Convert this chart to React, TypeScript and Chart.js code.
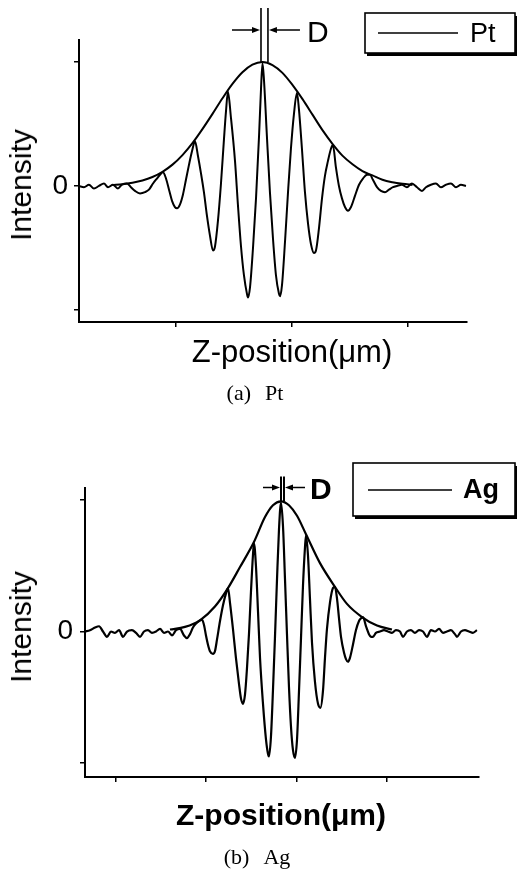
import React, { useEffect, useRef } from "react";
import { Chart, registerables } from "chart.js";

Chart.register(...registerables);

const SANS = '"Liberation Sans", Arial, Helvetica, sans-serif';
const SERIF = '"Liberation Serif", "Times New Roman", Times, serif';

// ---------- (a) Pt : white-light fringe trace ----------
const ptZ = [
  0.164, 0.207, 0.25, 0.293, 0.336, 0.379, 0.414, 0.457, 0.5, 0.534,
  0.578, 0.612, 0.647, 0.69, 0.733, 0.767, 0.802, 0.836, 0.862, 0.888,
  0.914, 0.94, 0.966, 0.991, 1.009, 1.034, 1.06, 1.086, 1.112, 1.138,
  1.164, 1.19, 1.216, 1.241, 1.267, 1.293, 1.319, 1.336, 1.362, 1.388,
  1.414, 1.431, 1.448, 1.474, 1.509, 1.534, 1.56, 1.586, 1.612, 1.621,
  1.638, 1.664, 1.69, 1.716, 1.733, 1.746, 1.759, 1.784, 1.81, 1.836,
  1.862, 1.888, 1.897, 1.914, 1.94, 1.966, 1.991, 2.017, 2.043, 2.06,
  2.086, 2.112, 2.138, 2.164, 2.19, 2.207, 2.233, 2.259, 2.284, 2.31,
  2.336, 2.353, 2.379, 2.405, 2.431, 2.457, 2.483, 2.509, 2.543, 2.578,
  2.612, 2.647, 2.672, 2.698, 2.733, 2.767, 2.802, 2.836, 2.871, 2.905,
  2.948, 2.991, 3.034, 3.078, 3.121, 3.155, 3.198, 3.241, 3.284, 3.328,
  3.371, 3.414, 3.457, 3.5,
];
const ptSignal = [
  0.0, -0.01, 0.01, -0.02, 0.0, 0.02, -0.01, 0.01, -0.02, 0.01,
  0.02, -0.01, -0.04, -0.06, -0.05, -0.03, 0.02, 0.06, 0.09, 0.11,
  0.06, -0.03, -0.12, -0.17, -0.18, -0.15, -0.07, 0.05, 0.17, 0.28,
  0.36, 0.24, 0.1, -0.05, -0.24, -0.4, -0.52, -0.49, -0.28, 0.02,
  0.38, 0.6, 0.76, 0.55, 0.2, -0.15, -0.48, -0.72, -0.87, -0.9,
  -0.82, -0.5, -0.1, 0.4, 0.78, 0.99, 0.85, 0.4, -0.05, -0.42,
  -0.72, -0.87, -0.89, -0.8, -0.45, -0.05, 0.3, 0.58, 0.75, 0.62,
  0.3, -0.05, -0.3, -0.47, -0.54, -0.52, -0.34, -0.1, 0.08, 0.2,
  0.3, 0.33, 0.15, 0.0, -0.1, -0.17, -0.2, -0.17, -0.08, 0.01,
  0.06, 0.09, 0.09, 0.05, -0.01, -0.04, -0.05, -0.03, -0.01, 0.0,
  0.01, -0.01, 0.02, -0.01, -0.04, -0.01, 0.01, 0.02, -0.01, 0.01,
  0.02, -0.01, 0.01, 0.0,
];
const ptEnvZ = [
  0.453, 0.539, 0.625, 0.711, 0.797, 0.884, 0.97, 1.056, 1.142, 1.228,
  1.315, 1.401, 1.487, 1.573, 1.659, 1.746, 1.832, 1.918, 2.004, 2.091,
  2.177, 2.263, 2.349, 2.435, 2.522, 2.608, 2.694, 2.78, 2.866, 2.953, 3.039,
];
const ptEnvelope = [
  0.008, 0.014, 0.026, 0.044, 0.072, 0.114, 0.172, 0.249, 0.345, 0.458,
  0.581, 0.707, 0.823, 0.917, 0.978, 1.0, 0.975, 0.912, 0.815, 0.7,
  0.575, 0.45, 0.34, 0.245, 0.175, 0.12, 0.085, 0.05, 0.03, 0.017, 0.008,
];
const ptZTicks = [1, 2, 3];
const ptIntensityTicks = [-1, 0, 1];
const ptSpacingD = [1.733, 1.793];

// ---------- (b) Ag : white-light fringe trace ----------
const agZ = [
  0.663, 0.718, 0.773, 0.818, 0.862, 0.906, 0.95, 0.994, 1.039, 1.083,
  1.127, 1.182, 1.227, 1.271, 1.315, 1.359, 1.403, 1.448, 1.492, 1.536,
  1.58, 1.624, 1.669, 1.713, 1.757, 1.79, 1.823, 1.856, 1.89, 1.923,
  1.956, 1.978, 2.0, 2.022, 2.044, 2.077, 2.099, 2.122, 2.155, 2.188,
  2.221, 2.243, 2.265, 2.298, 2.331, 2.365, 2.387, 2.409, 2.431, 2.453,
  2.475, 2.497, 2.519, 2.53, 2.552, 2.575, 2.597, 2.63, 2.663, 2.685,
  2.696, 2.718, 2.74, 2.762, 2.785, 2.807, 2.829, 2.851, 2.873, 2.895,
  2.917, 2.939, 2.961, 2.983, 3.006, 3.028, 3.05, 3.072, 3.094, 3.105,
  3.127, 3.149, 3.171, 3.204, 3.238, 3.265, 3.293, 3.315, 3.337, 3.37,
  3.403, 3.425, 3.448, 3.47, 3.492, 3.525, 3.547, 3.569, 3.591, 3.624,
  3.657, 3.691, 3.713, 3.735, 3.768, 3.801, 3.823, 3.845, 3.878, 3.923,
  3.967, 4.011, 4.055, 4.099, 4.144, 4.177, 4.221, 4.265, 4.309, 4.354,
  4.398, 4.442, 4.486, 4.53, 4.575, 4.619, 4.663, 4.707, 4.751, 4.773,
  4.818, 4.862, 4.906, 4.95, 4.994,
];
const agSignal = [
  0.0, 0.01, 0.03, 0.04, 0.0, -0.04, 0.0, -0.01, 0.01, -0.04,
  0.0, 0.01, -0.01, -0.04, 0.0, 0.01, -0.01, 0.0, 0.02, -0.01,
  0.0, -0.03, 0.01, 0.02, -0.03, -0.05, -0.02, 0.03, 0.06, 0.08,
  0.09, 0.05, -0.03, -0.1, -0.15, -0.17, -0.15, -0.06, 0.08, 0.2,
  0.29, 0.33, 0.22, 0.02, -0.2, -0.4, -0.51, -0.55, -0.48, -0.28,
  -0.02, 0.3, 0.58, 0.67, 0.5, 0.15, -0.2, -0.55, -0.82, -0.93,
  -0.95, -0.8, -0.45, -0.05, 0.4, 0.78, 0.98, 0.8, 0.4, -0.02,
  -0.42, -0.72, -0.9, -0.96, -0.82, -0.45, -0.05, 0.35, 0.64, 0.73,
  0.58, 0.25, -0.08, -0.38, -0.55, -0.58, -0.45, -0.2, 0.02, 0.22,
  0.33, 0.34, 0.25, 0.1, -0.04, -0.16, -0.21, -0.23, -0.2, -0.1,
  0.01, 0.08, 0.1, 0.11, 0.04, -0.02, -0.04, -0.04, -0.01, 0.0,
  0.01, 0.0, -0.01, 0.01, 0.0, -0.04, 0.0, 0.01, -0.01, 0.01,
  0.0, -0.04, 0.01, 0.0, 0.02, -0.01, 0.0, 0.01, -0.02, -0.04,
  0.0, 0.01, 0.0, -0.01, 0.01,
];
const agEnvZ = [
  1.602, 1.768, 1.934, 2.099, 2.243, 2.376, 2.53, 2.652, 2.74, 2.829,
  2.917, 3.006, 3.105, 3.26, 3.425, 3.558, 3.724, 3.89, 4.055,
];
const agEnvelope = [
  0.015, 0.035, 0.085, 0.19, 0.33, 0.49, 0.68, 0.87, 0.96, 0.99,
  0.96, 0.88, 0.74, 0.52, 0.34, 0.21, 0.11, 0.045, 0.015,
];
const agZTicks = [1, 2, 3, 4];
const agIntensityTicks = [-1, 0, 1];
const agSpacingD = [2.829, 2.862];

type Pt = { x: number; y: number };
const pairs = (xs: number[], ys: number[]): Pt[] => xs.map((x, i) => ({ x, y: ys[i] }));

function arrowHead(ctx: CanvasRenderingContext2D, tipX: number, y: number, dir: number) {
  ctx.beginPath();
  ctx.moveTo(tipX, y);
  ctx.lineTo(tipX - dir * 8, y - 3);
  ctx.lineTo(tipX - dir * 8, y + 3);
  ctx.closePath();
  ctx.fill();
}

// Draws the fringe-spacing marker "D" and the boxed legend.
const fringeMarks = {
  id: "fringeMarks",
  afterDatasetsDraw(chart: any, _args: any, o: any) {
    const { ctx } = chart;
    const xs = chart.scales.x;
    const ys = chart.scales.y;
    const xl = xs.getPixelForValue(o.spacing[0]);
    const xr = xs.getPixelForValue(o.spacing[1]);
    const yTop = ys.getPixelForValue(o.lineTop);
    const yBot = ys.getPixelForValue(o.lineBottom);
    const ya = ys.getPixelForValue(o.arrowAt);
    ctx.save();
    ctx.strokeStyle = "#000";
    ctx.fillStyle = "#000";
    ctx.lineWidth = o.lineWidth;
    ctx.beginPath();
    ctx.moveTo(xl, yTop);
    ctx.lineTo(xl, yBot);
    ctx.moveTo(xr, yTop);
    ctx.lineTo(xr, yBot);
    ctx.stroke();

    const tl = xs.getPixelForValue(o.arrowTails[0]);
    const tr = xs.getPixelForValue(o.arrowTails[1]);
    ctx.lineWidth = 1.6;
    ctx.beginPath();
    ctx.moveTo(tl, ya);
    ctx.lineTo(xl - 6, ya);
    ctx.moveTo(tr, ya);
    ctx.lineTo(xr + 6, ya);
    ctx.stroke();
    arrowHead(ctx, xl - 1, ya, 1);
    arrowHead(ctx, xr + 1, ya, -1);

    ctx.font = o.labelFont;
    ctx.textAlign = "left";
    ctx.textBaseline = "alphabetic";
    ctx.fillText("D", xs.getPixelForValue(o.labelAt), ya + 12);

    // legend box with drop shadow
    const b = o.legend;
    ctx.fillStyle = "#000";
    ctx.fillRect(b.left + 2, b.top + 3, b.width, b.height);
    ctx.fillStyle = "#fff";
    ctx.fillRect(b.left, b.top, b.width, b.height);
    ctx.lineWidth = 1.6;
    ctx.strokeRect(b.left, b.top, b.width, b.height);
    ctx.beginPath();
    ctx.moveTo(b.left + b.sampleFrom, b.top + b.sampleAt);
    ctx.lineTo(b.left + b.sampleTo, b.top + b.sampleAt);
    ctx.stroke();
    ctx.fillStyle = "#000";
    ctx.font = b.font;
    ctx.fillText(chart.data.datasets[0].label, b.left + b.textAt, b.top + b.baseline);
    ctx.restore();
  },
};

function makeConfig(p: any) {
  const axisGrid = {
    display: true,
    drawOnChartArea: false,
    drawTicks: true,
    tickLength: 5,
    color: "#000",
    lineWidth: 1.5,
  };
  const axisBorder = { display: true, color: "#000", width: 2 };
  return {
    type: "line",
    data: {
      datasets: [
        {
          label: p.label,
          data: pairs(p.z, p.signal),
          borderColor: "#000",
          borderWidth: p.lineWidth,
          pointRadius: 0,
          cubicInterpolationMode: "monotone",
          fill: false,
        },
        {
          label: "envelope",
          data: pairs(p.envZ, p.envelope),
          borderColor: "#000",
          borderWidth: p.lineWidth,
          pointRadius: 0,
          cubicInterpolationMode: "monotone",
          fill: false,
        },
      ],
    },
    options: {
      animation: false,
      responsive: false,
      devicePixelRatio: 1,
      events: [],
      layout: { padding: { left: 0, right: p.padRight, top: p.padTop, bottom: 0 } },
      scales: {
        x: {
          type: "linear",
          position: "bottom",
          min: p.zMin,
          max: p.zMax,
          afterBuildTicks: (s: any) => {
            s.ticks = p.zTicks.map((value: number) => ({ value }));
          },
          afterFit: (s: any) => {
            s.height = p.xAxisHeight;
          },
          ticks: { display: false },
          grid: axisGrid,
          border: axisBorder,
        },
        y: {
          type: "linear",
          position: "left",
          min: p.iMin,
          max: p.iMax,
          afterBuildTicks: (s: any) => {
            s.ticks = p.iTicks.map((value: number) => ({ value }));
          },
          afterFit: (s: any) => {
            s.width = p.yAxisWidth;
          },
          ticks: {
            callback: (v: number) => (v === 0 ? "0" : ""),
            font: { family: SANS, size: 28 },
            color: "#000",
            padding: p.tickPad,
          },
          grid: axisGrid,
          border: axisBorder,
        },
      },
      plugins: {
        legend: { display: false },
        tooltip: { enabled: false },
        fringeMarks: p.marks,
      },
    },
    plugins: [fringeMarks],
  };
}

const ptPanel = {
  label: "Pt",
  z: ptZ,
  signal: ptSignal,
  envZ: ptEnvZ,
  envelope: ptEnvelope,
  zTicks: ptZTicks,
  iTicks: ptIntensityTicks,
  zMin: 0.164,
  zMax: 3.509,
  iMin: -1.097,
  iMax: 1.177,
  lineWidth: 2,
  padTop: 40,
  padRight: 51,
  yAxisWidth: 79,
  xAxisHeight: 98,
  tickPad: 6,
  marks: {
    spacing: ptSpacingD,
    lineTop: 1.435,
    lineBottom: 1.0,
    arrowAt: 1.258,
    arrowTails: [1.483, 2.069],
    labelAt: 2.129,
    lineWidth: 1.6,
    labelFont: `30px ${SANS}`,
    legend: {
      left: 365, top: 13, width: 150, height: 40,
      sampleFrom: 13, sampleTo: 93, sampleAt: 20,
      textAt: 105, baseline: 29, font: `27px ${SANS}`,
    },
  },
};

const agPanel = {
  label: "Ag",
  z: agZ,
  signal: agSignal,
  envZ: agEnvZ,
  envelope: agEnvelope,
  zTicks: agZTicks,
  iTicks: agIntensityTicks,
  zMin: 0.663,
  zMax: 5.017,
  iMin: -1.106,
  iMax: 1.091,
  lineWidth: 2.2,
  padTop: 58,
  padRight: 39,
  yAxisWidth: 85,
  xAxisHeight: 63,
  tickPad: 7,
  marks: {
    spacing: agSpacingD,
    lineTop: 1.179,
    lineBottom: 0.99,
    arrowAt: 1.095,
    arrowTails: [2.63, 3.094],
    labelAt: 3.149,
    lineWidth: 2,
    labelFont: `bold 30px ${SANS}`,
    legend: {
      left: 353, top: 33, width: 162, height: 53,
      sampleFrom: 15, sampleTo: 99, sampleAt: 27,
      textAt: 110, baseline: 35, font: `bold 27px ${SANS}`,
    },
  },
};

function FringeChart({ panel, top, height }: { panel: any; top: number; height: number }) {
  const ref = useRef<HTMLCanvasElement>(null);
  useEffect(() => {
    const chart = new Chart(ref.current as HTMLCanvasElement, makeConfig(panel) as any);
    return () => chart.destroy();
  }, [panel]);
  return (
    <canvas
      ref={ref}
      width={518}
      height={height}
      style={{ position: "absolute", left: 0, top, width: 518, height }}
    />
  );
}

function Label({
  x, y, text, size, family = SANS, weight = "normal", rotate = false,
}: {
  x: number; y: number; text: string; size: number; family?: string; weight?: string; rotate?: boolean;
}) {
  return (
    <div
      style={{
        position: "absolute",
        left: x,
        top: y,
        transform: `translate(-50%, -50%)${rotate ? " rotate(-90deg)" : ""}`,
        fontFamily: family,
        fontSize: size,
        fontWeight: weight as any,
        lineHeight: 1,
        whiteSpace: "pre",
        color: "#000",
      }}
    >
      {text}
    </div>
  );
}

function Caption({ x, y, tag, name }: { x: number; y: number; tag: string; name: string }) {
  return (
    <div
      style={{
        position: "absolute",
        left: x,
        top: y,
        transform: "translate(-50%, -50%)",
        fontFamily: SERIF,
        fontSize: 22,
        lineHeight: 1,
        whiteSpace: "nowrap",
        color: "#000",
      }}
    >
      <span>{tag}</span>
      <span style={{ marginLeft: 14 }}>{name}</span>
    </div>
  );
}

export default function App() {
  return (
    <div
      style={{
        position: "absolute",
        left: 0,
        top: 0,
        width: 518,
        height: 878,
        background: "#fff",
        overflow: "hidden",
      }}
    >
      <FringeChart panel={ptPanel} top={0} height={420} />
      <Label x={21} y={185} text="Intensity" size={30} rotate />
      <Label x={292} y={351} text="Z-position(μm)" size={31} />
      <Caption x={255} y={393} tag="(a)" name="Pt" />

      <FringeChart panel={agPanel} top={430} height={410} />
      <Label x={21} y={627} text="Intensity" size={30} rotate />
      <Label x={281} y={815} text="Z-position(μm)" size={30} weight="bold" />
      <Caption x={257} y={857} tag="(b)" name="Ag" />
    </div>
  );
}
